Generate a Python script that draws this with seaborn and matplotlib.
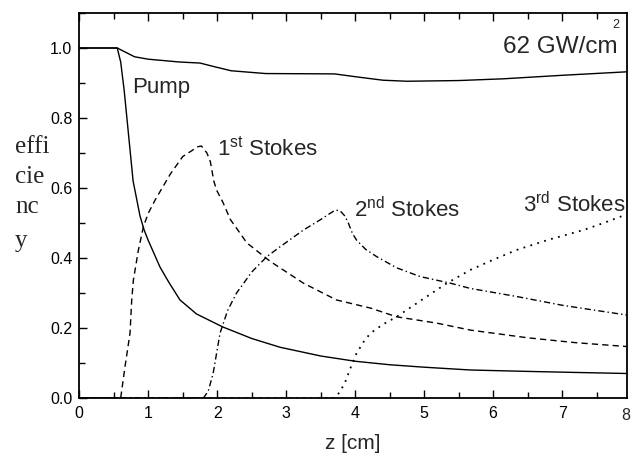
import matplotlib
matplotlib.use("Agg")
import matplotlib.pyplot as plt
import seaborn as sns
from matplotlib.ticker import MultipleLocator, FormatStrFormatter

# propagation distance z [cm] and efficiencies of each component
z_total = [0.0, 0.55, 0.65, 0.8, 1.0, 1.45, 1.75, 1.95, 2.2, 2.7, 3.7, 4.0,
           4.4, 4.75, 5.5, 6.15, 7.0, 7.94]
eff_total = [1.0, 1.0, 0.99, 0.975, 0.968, 0.96, 0.957, 0.947, 0.935, 0.927,
             0.926, 0.918, 0.908, 0.905, 0.907, 0.912, 0.922, 0.932]

z_pump = [0.0, 0.55, 0.6, 0.65, 0.7, 0.75, 0.78, 0.82, 0.88, 0.94, 1.0, 1.17,
          1.3, 1.46, 1.7, 2.08, 2.5, 2.91, 3.5, 4.0, 4.5, 5.0, 5.67, 6.5, 7.2,
          7.94]
eff_pump = [1.0, 1.0, 0.96, 0.88, 0.78, 0.68, 0.62, 0.58, 0.52, 0.48, 0.45,
            0.374, 0.33, 0.28, 0.24, 0.203, 0.17, 0.145, 0.12, 0.105, 0.095,
            0.088, 0.08, 0.076, 0.073, 0.07]

z_s1 = [0.0, 0.6, 0.663, 0.735, 0.76, 0.784, 0.857, 0.93, 1.0, 1.1, 1.32, 1.5,
        1.72, 1.77, 1.85, 1.9, 1.95, 1.99, 2.08, 2.19, 2.43, 2.77, 3.25, 3.73,
        4.22, 4.6, 5.18, 5.67, 6.5, 7.2, 7.94]
eff_s1 = [0.0, 0.0, 0.09, 0.185, 0.28, 0.337, 0.423, 0.49, 0.528, 0.566, 0.64,
          0.69, 0.718, 0.72, 0.70, 0.675, 0.62, 0.594, 0.56, 0.51, 0.443, 0.39,
          0.328, 0.28, 0.257, 0.232, 0.214, 0.194, 0.172, 0.158, 0.147]

z_s2 = [0.0, 1.8, 1.87, 1.94, 2.04, 2.15, 2.28, 2.5, 2.72, 2.91, 3.25, 3.5,
        3.71, 3.78, 3.85, 3.9, 3.96, 4.02, 4.15, 4.31, 4.6, 4.94, 5.38, 5.67,
        6.34, 7.0, 7.5, 7.94]
eff_s2 = [0.0, 0.0, 0.02, 0.07, 0.185, 0.25, 0.3, 0.36, 0.404, 0.432, 0.48,
          0.51, 0.537, 0.535, 0.52, 0.5, 0.47, 0.451, 0.425, 0.404, 0.372,
          0.347, 0.328, 0.313, 0.29, 0.265, 0.25, 0.237]

z_s3 = [0.0, 3.68, 3.77, 3.85, 3.93, 4.02, 4.12, 4.22, 4.4, 4.6, 5.0, 5.33,
        5.67, 6.0, 6.34, 6.8, 7.31, 7.6, 7.94]
eff_s3 = [0.0, 0.0, 0.015, 0.043, 0.085, 0.128, 0.16, 0.185, 0.21, 0.232,
          0.285, 0.328, 0.366, 0.395, 0.423, 0.452, 0.48, 0.5, 0.525]

x_ticks = [0, 1, 2, 3, 4, 5, 6, 7, 8]

sns.set_style("ticks")
plt.rcParams["font.family"] = ["Liberation Sans", "DejaVu Sans"]
plt.rcParams["mathtext.fontset"] = "custom"
plt.rcParams["mathtext.rm"] = "Liberation Sans"
plt.rcParams["mathtext.it"] = "Liberation Sans"

fig = plt.figure(figsize=(6.31, 4.58), dpi=100)
ax = fig.add_axes([79.3 / 631, 60 / 458, (627 - 79.3) / 631, 385 / 458])

lw = 1.0
sns.lineplot(x=z_total, y=eff_total, ax=ax, color="black", lw=lw, errorbar=None)
sns.lineplot(x=z_pump, y=eff_pump, ax=ax, color="black", lw=lw, errorbar=None)
sns.lineplot(x=z_s1, y=eff_s1, ax=ax, color="black", lw=lw, errorbar=None,
             linestyle=(0, (4.5, 3.0)))
sns.lineplot(x=z_s2, y=eff_s2, ax=ax, color="black", lw=lw, errorbar=None,
             linestyle=(0, (4.5, 2.2, 1.0, 2.2)))
sns.lineplot(x=z_s3, y=eff_s3, ax=ax, color="black", lw=1.3, errorbar=None,
             linestyle=(0, (1.0, 3.0)))

ax.set_xlim(0, 7.94)
ax.set_ylim(0, 1.1)
ax.set_xticks(x_ticks[:-1])
ax.xaxis.set_minor_locator(MultipleLocator(0.5))
ax.yaxis.set_major_locator(MultipleLocator(0.2))
ax.yaxis.set_minor_locator(MultipleLocator(0.1))
ax.yaxis.set_major_formatter(FormatStrFormatter("%.1f"))

for side in ["left", "right", "top", "bottom"]:
    ax.spines[side].set_visible(True)
    ax.spines[side].set_linewidth(1.3)
    ax.spines[side].set_color("black")

ax.tick_params(which="both", direction="in", top=True, right=False,
               colors="black", width=1.0, labelsize=11.5)
ax.tick_params(which="major", length=6)
ax.tick_params(which="minor", length=4)
ax.tick_params(axis="y", pad=5)
ax.tick_params(axis="x", pad=6)

# last x tick label, tucked against the right edge of the figure
fig.text(0.9985, (60 - 10) / 458, str(x_ticks[-1]), ha="right", va="top",
         fontsize=11.5)

ax.set_xlabel("z [cm]", fontsize=15, labelpad=9)
ax.set_ylabel("")

# series labels
ax.text(0.76, 0.871, "Pump", fontsize=16, va="baseline")
ax.text(2.0, 0.694, r"1$^{\rm st}$ Stokes", fontsize=16, va="baseline")
ax.text(3.98, 0.517, r"2$^{\rm nd}$ Stokes", fontsize=16, va="baseline")
ax.text(6.43, 0.532, r"3$^{\rm rd}$ Stokes", fontsize=16, va="baseline")
ax.text(6.14, 0.985, "62 GW/cm", fontsize=17.5, va="baseline")
ax.text(7.72, 1.056, "2", fontsize=9, va="baseline")

# vertical y-axis caption broken over lines
serif = ["Liberation Serif", "DejaVu Serif"]
for word, yb in [("effi", 153), ("cie", 183), ("nc", 213), ("y", 247)]:
    fig.text(15 / 631, 1 - yb / 458, word, family=serif, fontsize=18,
             va="baseline", ha="left")

fig.savefig("out.png", dpi=100, facecolor="white")
